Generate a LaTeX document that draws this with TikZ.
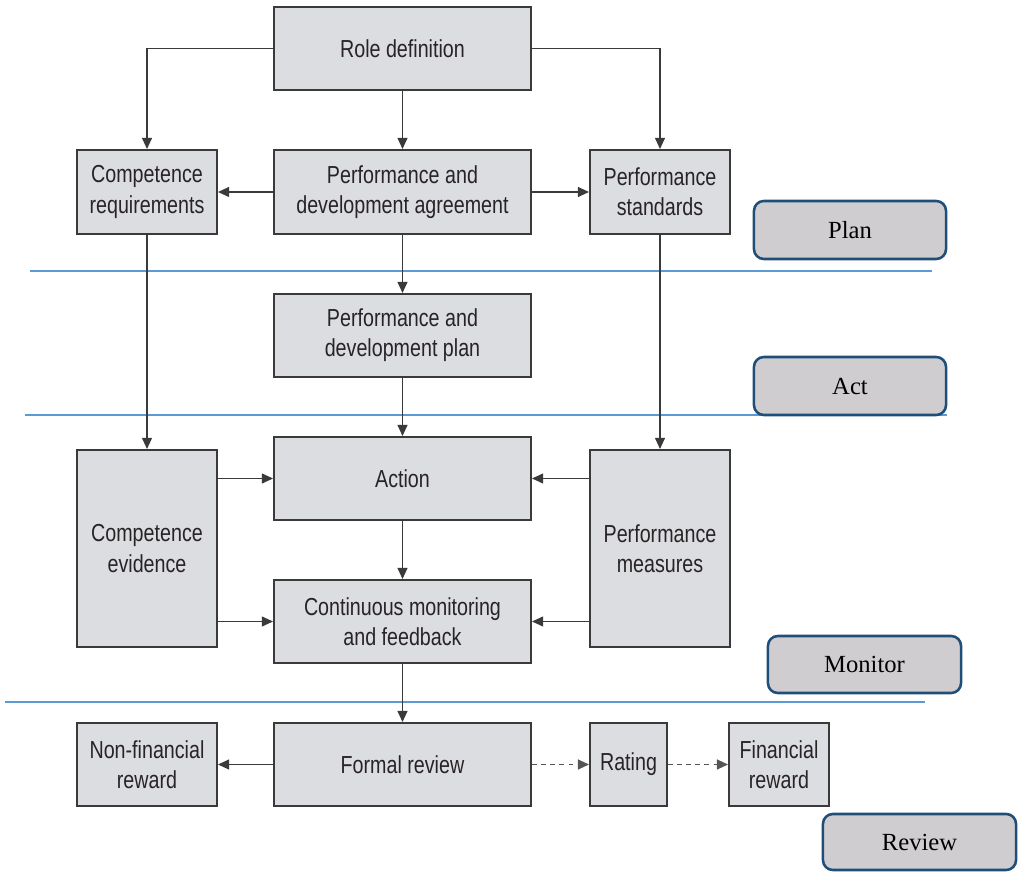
\documentclass[tikz,border=0pt]{standalone}
\usepackage{fontspec}
\newfontfamily\boxfont[FakeStretch=0.8]{Liberation Sans}
\newfontfamily\labfont{Liberation Serif}
\usetikzlibrary{arrows.meta}
\definecolor{boxfill}{RGB}{220,221,224}
\definecolor{boxline}{RGB}{58,58,58}
\definecolor{boxtext}{RGB}{40,36,38}
\definecolor{labfill}{RGB}{207,205,208}
\definecolor{labline}{RGB}{31,78,121}
\definecolor{sepblue}{RGB}{91,155,213}
\definecolor{dashgray}{RGB}{85,85,85}
\begin{document}
\begin{tikzpicture}[x=0.025cm,y=-0.025cm,
  box/.style={draw=boxline,fill=boxfill,line width=1.3pt,inner sep=0pt,
    align=center,text=boxtext,font=\boxfont\fontsize{17.5}{21.5}\selectfont},
  wbox/.style={box,minimum width=6.425cm,minimum height=2.075cm},
  nbox/.style={box,minimum width=3.5cm,minimum height=2.1cm},
  lab/.style={draw=labline,fill=labfill,line width=1.8pt,rounded corners=7pt,
    inner sep=0pt,font=\labfont\fontsize{17.5}{20}\selectfont,text=black},
  arr/.style={draw=boxline,line width=1.3pt,-{Triangle[length=8pt,width=7pt]}},
  darr/.style={draw=dashgray,line width=1.4pt,dash pattern=on 3.5pt off 3pt,
    -{Triangle[length=8pt,width=7pt]}},
  sep/.style={draw=sepblue,line width=0.9pt}]
\useasboundingbox (0,0) rectangle (1021,872);
% separator lines
\coordinate (s1a) at (30,271); \coordinate (s1b) at (932,271);
\coordinate (s2a) at (25,415); \coordinate (s2b) at (947,415);
\coordinate (s3a) at (5,702);  \coordinate (s3b) at (925,702);
\draw[sep] (s1a) -- (s1b);
\draw[sep] (s2a) -- (s2b);
\draw[sep] (s3a) -- (s3b);
% boxes
\node[wbox] (role) at (402.5,48.5) {Role definition};
\node[nbox] (compreq) at (147,192) {Competence\\requirements};
\node[wbox,minimum height=2.1cm] (pda) at (402.5,192) {Performance and\\development agreement};
\node[nbox] (perfstd) at (660,192) {Performance\\standards};
\node[wbox] (pdp) at (402.5,335.5) {Performance and\\development plan};
\node[wbox] (action) at (402.5,478.5) {Action};
\node[box,minimum width=3.5cm,minimum height=4.925cm] (compev) at (147,548.5) {Competence\\evidence};
\node[box,minimum width=3.5cm,minimum height=4.925cm] (perfmeas) at (660,548.5) {Performance\\measures};
\node[wbox] (cmf) at (402.5,621.5) {Continuous monitoring\\and feedback};
\node[nbox,minimum height=2.075cm] (nonfin) at (147,764.5) {Non-financial\\reward};
\node[wbox] (formal) at (402.5,764.5) {Formal review};
\node[box,minimum width=1.925cm,minimum height=2.075cm] (rating) at (628.5,764.5) {Rating};
\node[box,minimum width=2.5cm,minimum height=2.075cm] (finrew) at (779,764.5) {Financial\\reward};
% phase labels
\node[lab,minimum width=4.8cm,minimum height=1.45cm] (plan) at (850,230) {Plan};
\node[lab,minimum width=4.8cm,minimum height=1.45cm] (act) at (850,386) {Act};
\node[lab,minimum width=4.825cm,minimum height=1.425cm] (monitor) at (864.5,664.5) {Monitor};
\node[lab,minimum width=4.825cm,minimum height=1.4cm] (review) at (919.5,842) {Review};
% connectors
\draw[arr] (role.west) -| (compreq.north);
\draw[arr] (role.east) -| (perfstd.north);
\draw[arr] (role.south) -- (pda.north);
\draw[arr] (pda.west) -- (compreq.east);
\draw[arr] (pda.east) -- (perfstd.west);
\draw[arr] (pda.south) -- (pdp.north);
\draw[arr] (pdp.south) -- (action.north);
\draw[arr] (compreq.south) -- (compev.north);
\draw[arr] (perfstd.south) -- (perfmeas.north);
\draw[arr] (compev.east |- action.west) -- (action.west);
\draw[arr] (compev.east |- cmf.west) -- (cmf.west);
\draw[arr] (perfmeas.west |- action.east) -- (action.east);
\draw[arr] (perfmeas.west |- cmf.east) -- (cmf.east);
\draw[arr] (action.south) -- (cmf.north);
\draw[arr] (cmf.south) -- (formal.north);
\draw[arr] (formal.west) -- (nonfin.east);
\draw[darr] (formal.east) -- (rating.west);
\draw[darr] (rating.east) -- (finrew.west);
\end{tikzpicture}
\end{document}
